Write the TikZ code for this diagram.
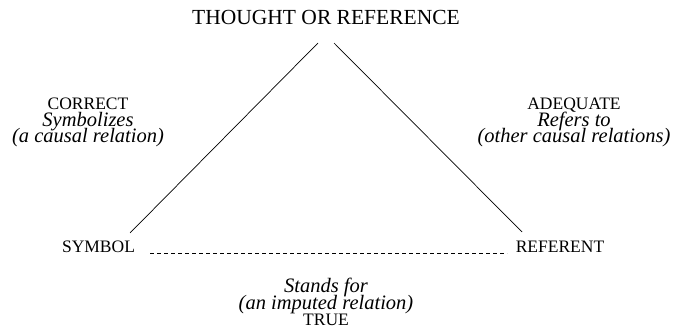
\documentclass[tikz,border=0pt]{standalone}
\usepackage{fontspec}
\setmainfont{Liberation Serif}
\newcommand{\capsfont}{\fontsize{17.5}{16.5}\selectfont}
\setlength{\lineskiplimit}{-100pt}
\begin{document}
\begin{tikzpicture}[x=1pt,y=-1pt,
  caps/.style={inner sep=0pt,anchor=base,font=\capsfont},
  bigcaps/.style={inner sep=0pt,anchor=base,font=\fontsize{21.5}{24}\selectfont},
  labelblock/.style={inner sep=0pt,anchor=base,align=center,
    font=\fontsize{20.5}{16.5}\selectfont\itshape},
  edgeline/.style={line width=0.7pt},
  dashline/.style={line width=0.7pt,dash pattern=on 4pt off 3pt}]
\useasboundingbox (0,0) rectangle (686,331);
% title
\node[bigcaps] (title) at (326,25) {THOUGHT OR REFERENCE};
% side labels (anchor = baseline of last line)
\node[labelblock] (leftlabel) at (88,143)
  {{\upshape\capsfont CORRECT}\\Symbolizes\\(a causal relation)};
\node[labelblock] (rightlabel) at (574,143)
  {{\upshape\capsfont ADEQUATE}\\Refers to\\(other causal relations)};
% corners
\node[caps] (symbol) at (98.5,253) {SYMBOL};
\node[caps] (referent) at (560,253) {REFERENT};
% bottom label
\node[labelblock] (bottomlabel) at (326,326)
  {Stands for\\(an imputed relation)\\{\upshape\capsfont TRUE}};
% connector end points
\coordinate (apexL) at (318,43);
\coordinate (apexR) at (334,43);
\coordinate (symEnd) at (130,233);
\coordinate (refEnd) at (522,232);
\coordinate (dashL) at (150,253);
\coordinate (dashR) at (507,253);
\draw[edgeline] (apexL) -- (symEnd);
\draw[edgeline] (apexR) -- (refEnd);
\draw[dashline] (dashL) -- (dashR);
\end{tikzpicture}
\end{document}
